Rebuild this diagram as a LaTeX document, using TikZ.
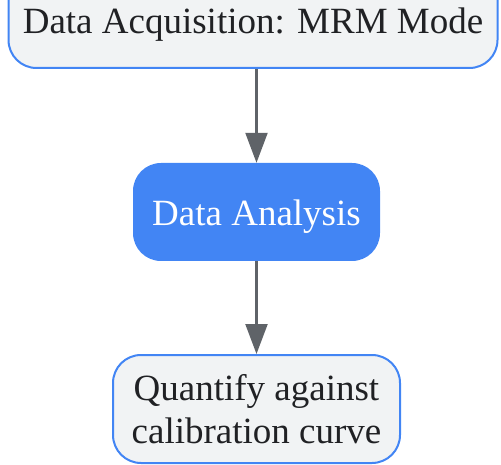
\documentclass[tikz,border=0pt]{standalone}
\usepackage{fontspec}
\setmainfont{Liberation Serif}
\usepackage{tikz}
\usetikzlibrary{arrows.meta,positioning}
\definecolor{gblue}{HTML}{4285F4}
\definecolor{gfill}{HTML}{F1F3F4}
\definecolor{gtext}{HTML}{202124}
\definecolor{garrow}{HTML}{5F6368}
\tikzset{
  pnode/.style={rectangle, draw=gblue, line width=2pt, fill=gfill, rounded corners=28pt,
    text=gtext, font=\fontsize{37}{43}\selectfont, align=center, inner sep=0pt},
  anode/.style={rectangle, fill=gblue, rounded corners=28pt, text=white,
    font=\fontsize{37}{43}\selectfont, align=center, inner sep=0pt},
  flow/.style={line width=2.2pt, draw=garrow, -{Triangle[length=30pt, width=22pt]}},
}
\begin{document}
\begin{tikzpicture}[x=1pt, y=-1pt]
  \useasboundingbox (0,0) rectangle (501,465);
  % --- steps ---
  \node[pnode, minimum width=489pt, minimum height=98pt, text height=38pt, text depth=8pt] (acq) at (253,19) {Data Acquisition: MRM Mode};
  \node[anode, minimum width=247pt, minimum height=98pt, text height=36pt, text depth=8pt] (ana) at (256.5,212) {Data Analysis};
  \node[pnode, minimum width=287pt, minimum height=108pt] (quant) at (256.5,409) {Quantify against\\calibration curve};

  % arrows
  \draw[flow] (acq.south -| ana.north) -- (ana.north);
  \draw[flow] (ana) -- (quant);
\end{tikzpicture}
\end{document}
